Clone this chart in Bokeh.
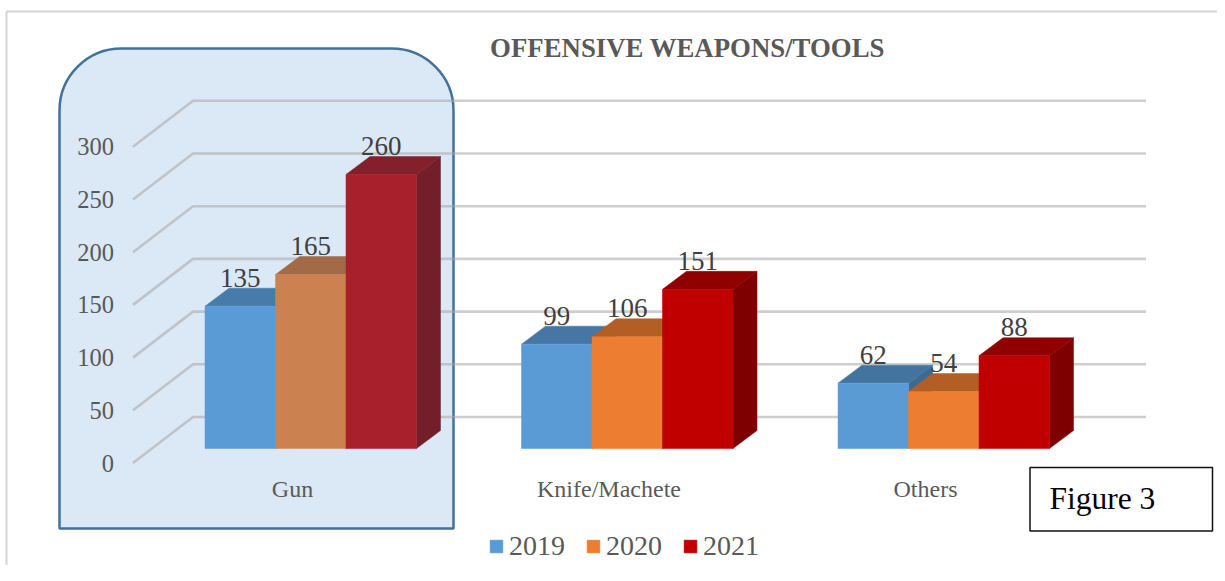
from bokeh.plotting import figure
from bokeh.models import (Range1d, FixedTicker, BoxAnnotation, Label, Legend, LegendItem)
from bokeh.core.properties import value
from bokeh.embed import file_html
from bokeh.resources import INLINE

# ---- data ----
categories = ["Gun", "Knife/Machete", "Others"]
years = ["2019", "2020", "2021"]
values_2019 = [135, 99, 62]
values_2020 = [165, 106, 54]
values_2021 = [260, 151, 88]
y_ticks = [0, 50, 100, 150, 200, 250, 300]
title_text = "OFFENSIVE WEAPONS/TOOLS"
note_text = "Figure 3"

front_2019 = ["#5B9BD5", "#5B9BD5", "#5B9BD5"]
top_2019 = ["#477BAA", "#4676A3", "#4374A0"]
side_2019 = ["#3D6A92", "#3D6A92", "#3D6A92"]
front_2020 = ["#CC8250", "#ED7D31", "#ED7D31"]
top_2020 = ["#A26A46", "#B25E24", "#B25E24"]
side_2020 = ["#8A5A3C", "#9E5421", "#9E5421"]
front_2021 = ["#A8202B", "#C00000", "#C00000"]
top_2021 = ["#84202B", "#900000", "#900000"]
side_2021 = ["#721F2A", "#7F0000", "#7F0000"]

series = [
    (years[0], values_2019, front_2019, top_2019, side_2019),
    (years[1], values_2020, front_2020, top_2020, side_2020),
    (years[2], values_2021, front_2021, top_2021, side_2021),
]

# ---- layout constants (pixels in the picture) ----
W, H = 1217, 565
CAT_PX = 316.5          # pixels per category
VAL_PX = 1.054          # pixels per unit of value
CAT0_PX = 292.5         # x of the first category label
ZERO_PX = 462.5         # y of value 0 on the front plane
SHIFT = 0.5             # canvas offset correction for the marks
SERIF = "Liberation Serif"

ux = lambda px: px / CAT_PX
uy = lambda px: px / VAL_PX
sy = lambda y: H - y    # screen-unit annotations count y from the bottom

p = figure(
    width=W, height=H, output_backend="svg", toolbar_location=None,
    x_range=Range1d(ux(-CAT0_PX + SHIFT), ux(W - CAT0_PX + SHIFT)),
    y_range=Range1d(uy(ZERO_PX - H), uy(ZERO_PX)),
    min_border=0, min_border_left=0, min_border_right=0, min_border_top=0, min_border_bottom=0,
    outline_line_color=None, background_fill_color=None, border_fill_color="white",
)
p.grid.visible = False

# ---- axes, inside the frame ----
ya = p.yaxis[0]
ya.fixed_location = ux(125 - CAT0_PX)
ya.ticker = FixedTicker(ticks=y_ticks)
ya.axis_line_color = None
ya.major_tick_line_color = None
ya.minor_tick_line_color = None
ya.major_label_standoff = 5
ya.major_label_text_font = SERIF
ya.major_label_text_font_size = "24.5px"
ya.major_label_text_color = "#595959"
ya.major_label_text_font_style = "normal"

xa = p.xaxis[0]
xa.fixed_location = uy(ZERO_PX - 468)
xa.ticker = FixedTicker(ticks=[0, 1, 2])
xa.major_label_overrides = {i: c for i, c in enumerate(categories)}
xa.axis_line_color = None
xa.major_tick_line_color = None
xa.minor_tick_line_color = None
xa.major_label_standoff = 1
xa.major_label_text_font = SERIF
xa.major_label_text_font_size = "24px"
xa.major_label_text_color = "#595959"
xa.major_label_text_font_style = "normal"

# ---- page furniture in screen units ----
scr = dict(left_units="screen", right_units="screen", top_units="screen", bottom_units="screen")
p.add_layout(BoxAnnotation(left=6, right=W + 40, top=sy(11), bottom=sy(H + 40), fill_color=None,
                           line_color="#D4D4D4", line_width=2, line_alpha=1, level="underlay", **scr))
p.add_layout(BoxAnnotation(left=59, right=453, top=sy(48), bottom=sy(528),
                           fill_color="#DBE8F5", fill_alpha=1, line_color="#41719C", line_width=2.5,
                           line_alpha=1, border_radius=(62, 62, 0, 0), level="underlay", **scr))

# ---- 3-D gridlines: front plane, back plane, then across ----
gx0, gx1, gx2 = ux(133 - CAT0_PX), ux(193 - CAT0_PX), ux(1146 - CAT0_PX)
back = uy(46)
p.multi_line(
    xs=[[gx0, gx1, gx2] for _ in y_ticks],
    ys=[[v, v + back, v + back] for v in y_ticks],
    line_color="#A6A6A6", line_alpha=0.55, line_width=2.6,
)

# ---- 3-D bars ----
bar_w = ux(70.5)
group_off = ux(205 - CAT0_PX)
lift = uy(14.5)
dx, dy = ux(24), uy(18)
legend_items = []
for s, (name, vals, front, top, side) in enumerate(series):
    x0 = [i + group_off + s * bar_w for i in range(len(vals))]
    x1 = [a + bar_w for a in x0]
    y1 = [v + lift for v in vals]
    p.patches(
        xs=[[b, b + dx, b + dx, b] for b in x1],
        ys=[[lift, lift + dy, t + dy, t] for t in y1],
        fill_color=side, line_color=side, line_width=0.5,
    )
    p.patches(
        xs=[[a, a + dx, b + dx, b] for a, b in zip(x0, x1)],
        ys=[[t, t + dy, t + dy, t] for t in y1],
        fill_color=top, line_color=top, line_width=0.5,
    )
    r = p.quad(left=x0, right=x1, bottom=lift, top=y1, fill_color=front, line_color=front, line_width=0.5)
    legend_items.append(LegendItem(label=name, renderers=[r], index=1))

# ---- value labels, above each bar ----
for s, (name, vals, front, top, side) in enumerate(series):
    xs = [i + group_off + (s + 0.5) * bar_w for i in range(len(vals))]
    ys = [v + lift + uy(28.5) for v in vals]
    p.text(x=xs, y=ys, text=[str(v) for v in vals], text_font=value(SERIF), text_font_size="27px",
           text_color="#404040", text_align="center", text_baseline="middle")

# ---- legend ----
legend = Legend(items=legend_items, orientation="horizontal", location=(488, H - 562),
                glyph_width=16, glyph_height=16, label_standoff=5, spacing=20, padding=0, margin=0,
                background_fill_alpha=0, border_line_color=None,
                label_text_font=SERIF, label_text_font_size="28px", label_text_color="#595959")
p.add_layout(legend, "center")

# ---- title and note ----
p.add_layout(Label(x=687, y=sy(47), x_units="screen", y_units="screen", text=title_text,
                   text_font=SERIF, text_font_size="26.8px", text_font_style="bold", text_color="#595959",
                   text_align="center", text_baseline="middle"))
p.add_layout(BoxAnnotation(left=1029.5, right=1212, top=sy(467), bottom=sy(530.5),
                           fill_color="white", fill_alpha=1, line_color="#111111", line_width=1.5, line_alpha=1,
                           level="annotation", **scr))
p.add_layout(Label(x=1049, y=sy(498), x_units="screen", y_units="screen", text=note_text,
                   text_font=SERIF, text_font_size="31.5px", text_color="#000000",
                   text_align="left", text_baseline="middle"))

open("out.html", "w").write(file_html(p, INLINE))
